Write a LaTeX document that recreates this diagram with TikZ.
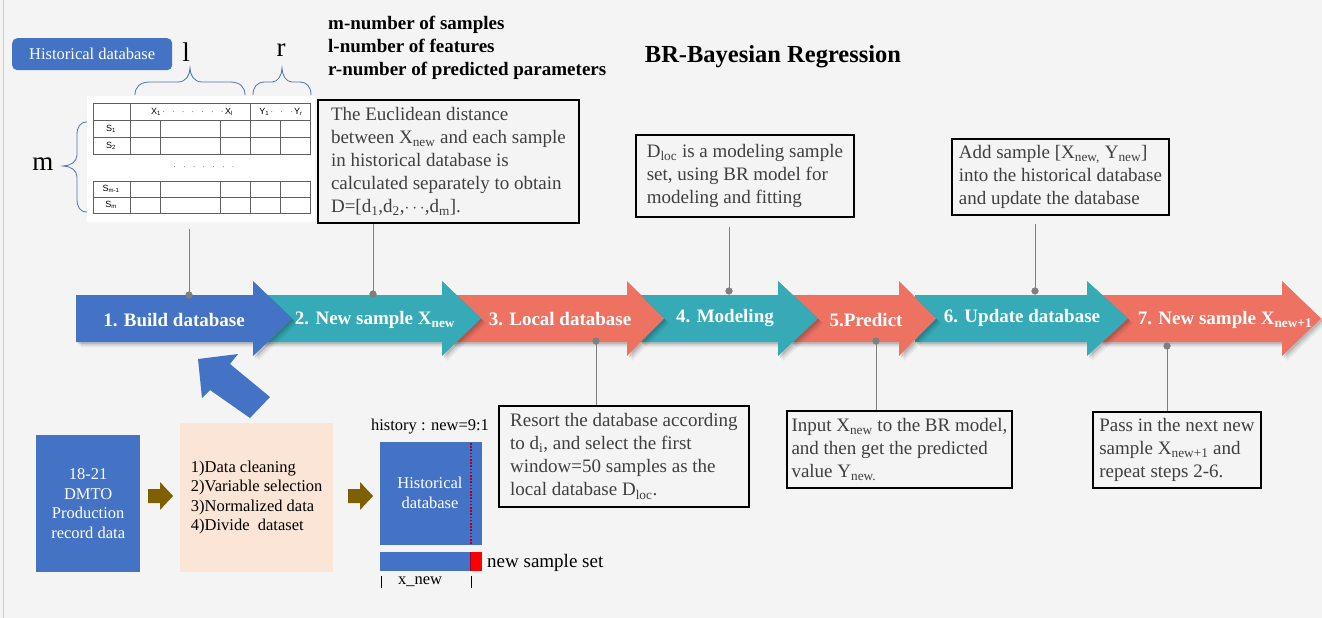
\documentclass[tikz,border=0pt]{standalone}
\usepackage{fontspec}
\setmainfont{Liberation Serif}
\newfontfamily\tabfont{Liberation Sans}
\usetikzlibrary{calc}
\definecolor{bg}{HTML}{F4F4F4}
\definecolor{cblue}{HTML}{4472C4}
\definecolor{cteal}{HTML}{36AAB6}
\definecolor{csalmon}{HTML}{EE7262}
\definecolor{olivec}{HTML}{7F6000}
\definecolor{peach}{HTML}{FBE5D6}
\definecolor{txtgray}{HTML}{3F3F3F}
\definecolor{lgray}{HTML}{7F7F7F}
\definecolor{bracec}{HTML}{4F72B0}
\definecolor{dred}{HTML}{A00030}
\definecolor{gridc}{HTML}{606060}

\newcommand\steparrow[4]{% #1 colour, #2 left, #3 head start, #4 tip
  \foreach \shf/\opc in {5/0.05,3.5/0.08,2/0.12}{
    \fill[black,opacity=\opc] (#2+\shf,295+\shf) -- (#3+\shf,295+\shf) -- (#3+\shf,281+\shf) -- (#4+\shf,318.5+\shf) -- (#3+\shf,356+\shf) -- (#3+\shf,342+\shf) -- (#2+\shf,342+\shf) -- cycle;}
  \fill[#1] (#2,295) -- (#3,295) -- (#3,281) -- (#4,318.5) -- (#3,356) -- (#3,342) -- (#2,342) -- cycle;
}

\begin{document}
\begin{tikzpicture}[x=1pt,y=-1pt,
  infobox/.style={draw=black, line width=1.8pt, fill=bg, text=txtgray, align=left,
    font=\fontsize{19}{23}\selectfont, inner sep=2pt, anchor=north west},
  steplabel/.style={text=white, font=\bfseries\fontsize{19}{21}\selectfont, inner sep=0pt},
  dotmark/.style={circle, fill=lgray, inner sep=0pt, minimum size=7pt},
  conn/.style={draw=lgray, line width=0.9pt},
  bracepath/.style={draw=bracec, line width=0.8pt},
  gridline/.style={draw=gridc, line width=0.7pt},
  tabtxt/.style={font=\tabfont\fontsize{9}{10}\selectfont, inner sep=0pt},
  olivearrow/.style={fill=olivec}
]
\useasboundingbox (0,0) rectangle (1322,618);
\fill[bg] (0,0) rectangle (1322,618);
\draw[draw=black!20, line width=0.8pt] (3,0) -- (3,618);

% ---------- top-left: historical database table ----------
\node[fill=cblue, rounded corners=5pt, text=white, font=\fontsize{16.5}{18}\selectfont,
      minimum width=160pt, minimum height=32pt, inner sep=0pt, anchor=north west] (histlabel) at (12,38) {Historical database};
\node[font=\fontsize{27}{28}\selectfont, inner sep=0pt] (lsym) at (186,52) {l};
\node[font=\fontsize{27}{28}\selectfont, inner sep=0pt] (rsym) at (281,50) {r};
\node[font=\fontsize{27}{28}\selectfont, inner sep=0pt] (msym) at (43,164) {m};

\draw[bracepath] (135,95) .. controls (135,87) and (140,82) .. (150,82) -- (178,82) .. controls (186,82) and (190,75) .. (190,68) .. controls (190,75) and (194,82) .. (202,82) -- (230,82) .. controls (240,82) and (245,87) .. (245,95);
\draw[bracepath] (253,95) .. controls (253,87) and (257,82) .. (265,82) -- (272,82) .. controls (278,82) and (282,75) .. (282,68) .. controls (282,75) and (286,82) .. (292,82) -- (300,82) .. controls (307,82) and (311,87) .. (311,95);
\draw[bracepath] (87,122) .. controls (80,122) and (77,127) .. (77,135) -- (77,155) .. controls (77,162) and (70,166) .. (63,166) .. controls (70,166) and (77,170) .. (77,177) -- (77,199) .. controls (77,207) and (80,212) .. (87,212);

\fill[white] (87,96) rectangle (315,222);
% header
\draw[gridline] (93,103) rectangle (310,120);
\draw[gridline] (130,103) -- (130,120) (250,103) -- (250,120);
% rows 1-2
\draw[gridline] (93,120) rectangle (310,154);
\draw[gridline] (93,137) -- (310,137);
\foreach \xc in {130,160,220,250,280} \draw[gridline] (\xc,120) -- (\xc,154);
% rows m-1, m
\draw[gridline] (93,181) rectangle (310,213);
\draw[gridline] (93,197) -- (310,197);
\foreach \xc in {130,160,220,250,280} \draw[gridline] (\xc,181) -- (\xc,213);
\node[tabtxt] (hx) at (192,112) {X\textsubscript{1}\,$\cdot\;\;\cdot\;\;\cdot\;\;\cdot\;\;\cdot\;\;\cdot\;\;\cdot$\,X\textsubscript{l}};
\node[tabtxt] (hy) at (281,112) {Y\textsubscript{1}\,$\cdot\;\;\cdot\;\;\cdot$\,Y\textsubscript{r}};
\node[tabtxt] (rs1) at (111,129) {S\textsubscript{1}};
\node[tabtxt] (rs2) at (111,146) {S\textsubscript{2}};
\node[tabtxt] (rsm1) at (111,189) {S\textsubscript{m-1}};
\node[tabtxt] (rsm) at (111,205) {S\textsubscript{m}};
\node[tabtxt] (vdots) at (204,167) {$\cdot\;\;\cdot\;\;\cdot\;\;\cdot\;\;\cdot\;\;\cdot\;\;\cdot$};
\coordinate (tbot) at (189,229);

% ---------- legend and title ----------
\node[align=left, anchor=west, inner sep=0pt, font=\bfseries\fontsize{19}{23}\selectfont] (legend) at (328,48)
  {m-number of samples\\l-number of features\\r-number of predicted parameters};
\node[font=\bfseries\fontsize{24.5}{26}\selectfont, inner sep=0pt] (title) at (773,57) {BR-Bayesian Regression};

% ---------- upper info boxes ----------
\node[infobox, minimum width=261pt, minimum height=123pt] (box1) at (317,99)
  {The Euclidean distance\\between X\textsubscript{new} and each sample\\in historical database is\\calculated separately to obtain\\D=[d\textsubscript{1},d\textsubscript{2},$\cdots$,d\textsubscript{m}].};
\node[infobox, minimum width=218pt, minimum height=82pt] (box2) at (635,134)
  {D\textsubscript{loc} is a modeling sample\\set, using BR model for\\modeling and fitting};
\node[infobox, minimum width=217pt, minimum height=76pt] (box3) at (951,138)
  {Add sample [X\textsubscript{new,} Y\textsubscript{new}]\\into the historical database\\and update the database};

% ---------- process arrows (drawn right to left) ----------
\steparrow{csalmon}{1100}{1282}{1321}
\steparrow{cteal}{915}{1087}{1128}
\steparrow{csalmon}{790}{899}{936}
\steparrow{cteal}{640}{778}{818}
\steparrow{csalmon}{450}{627}{664}
\steparrow{cteal}{260}{442}{481}
\steparrow{cblue}{76}{253}{292}

\node[steplabel] (s1) at (174,320) {1. Build database};
\node[steplabel] (s2) at (375,320) {2. New sample X\textsubscript{new}};
\node[steplabel] (s3) at (560,319) {3. Local database};
\node[steplabel] (s4) at (725,318) {4. Modeling};
\node[steplabel] (s5) at (866,320) {5.Predict};
\node[steplabel] (s6) at (1022,318) {6. Update database};
\node[steplabel] (s7) at (1225,320) {7. New sample X\textsubscript{new+1}};

% ---------- lower info boxes ----------
\node[infobox, minimum width=250pt, minimum height=101pt] (box4) at (498,405)
  {Resort the database according\\to d\textsubscript{i}, and select the first\\window=50 samples as the\\local database D\textsubscript{loc}.};
\node[infobox, minimum width=225pt, minimum height=77pt] (box5) at (786,410)
  {Input X\textsubscript{new} to the BR model,\\and then get the predicted\\value Y\textsubscript{new.}};
\node[infobox, minimum width=168pt, minimum height=76pt] (box6) at (1092,411)
  {Pass in the next new\\sample X\textsubscript{new+1} and\\repeat steps 2-6.};

% ---------- connectors and dots ----------
\node[dotmark] (d1) at (189,295) {};
\node[dotmark] (d2) at (373,294) {};
\node[dotmark] (d4) at (729,291) {};
\node[dotmark] (d6) at (1035,291) {};
\node[dotmark] (d3) at (596,341) {};
\node[dotmark] (d5) at (876,341) {};
\node[dotmark] (d7) at (1167,346) {};
\draw[conn] (tbot) -- (d1.center);
\draw[conn] (d2 |- box1.south) -- (d2.center);
\draw[conn] (d4 |- box2.south) ++(0,9) -- (d4.center);
\draw[conn] (d6 |- box3.south) ++(0,8) -- (d6.center);
\draw[conn] (d3.center) -- (d3 |- box4.north);
\draw[conn] (d5.center) -- (d5 |- box5.north);
\draw[conn] (d7.center) -- (d7 |- box6.north);
\node[dotmark] at (d1) {};
\node[dotmark] at (d2) {};
\node[dotmark] at (d4) {};
\node[dotmark] at (d6) {};
\node[dotmark] at (d3) {};
\node[dotmark] at (d5) {};
\node[dotmark] at (d7) {};

% ---------- big diagonal arrow ----------
\fill[cblue] (198,359) -- (238,354) -- (230,364) -- (270,397) -- (250,418) -- (210,390) -- (202,398) -- cycle;

% ---------- bottom-left pipeline ----------
\node[fill=cblue, text=white, align=center, font=\fontsize{16.5}{19.5}\selectfont,
      minimum width=104pt, minimum height=137pt, inner sep=0pt, anchor=north west] (raw) at (36,435)
  {18-21\\DMTO\\Production\\record data};
\node[fill=peach, align=left, font=\fontsize{16.5}{19.5}\selectfont,
      minimum width=153pt, minimum height=149pt, inner sep=0pt, anchor=north west] (prep) at (180,423)
  {1)Data cleaning\\2)Variable selection\\3)Normalized data\\4)Divide\ \ dataset};
\fill[olivec] (148,489) -- (160,489) -- (160,482) -- (173,496) -- (160,510) -- (160,503) -- (148,503) -- cycle;
\fill[olivec] (348,489) -- (360,489) -- (360,482) -- (373,496) -- (360,510) -- (360,503) -- (348,503) -- cycle;

\node[font=\fontsize{16.5}{18}\selectfont, inner sep=0pt] (ratio) at (430,427) {history : new=9:1};
\node[fill=cblue, minimum width=102pt, minimum height=103pt, inner sep=0pt, anchor=north west] (hist) at (380,442) {};
\node[text=white, align=center, font=\fontsize{16.5}{20}\selectfont, inner sep=0pt] (histtxt) at (430,493) {Historical\\database};
\draw[dred, line width=1.8pt, dash pattern=on 1.6pt off 1.6pt] (471,443) -- (471,544);
\fill[cblue] (380,552) rectangle (470,571);
\fill[red] (470,552) rectangle (482,571);
\draw[dred, line width=0.6pt] (470,552) -- (470,571);
\node[font=\fontsize{19}{20}\selectfont, anchor=west, inner sep=0pt] (newset) at (487,563) {new sample set};
\draw[black, line width=0.6pt] (381,576) -- (381,588);
\draw[black, line width=0.6pt] (471,576) -- (471,588);
\node[font=\fontsize{16.5}{18}\selectfont, inner sep=0pt] (xnew) at (420,582) {x\_new};
\end{tikzpicture}
\end{document}
